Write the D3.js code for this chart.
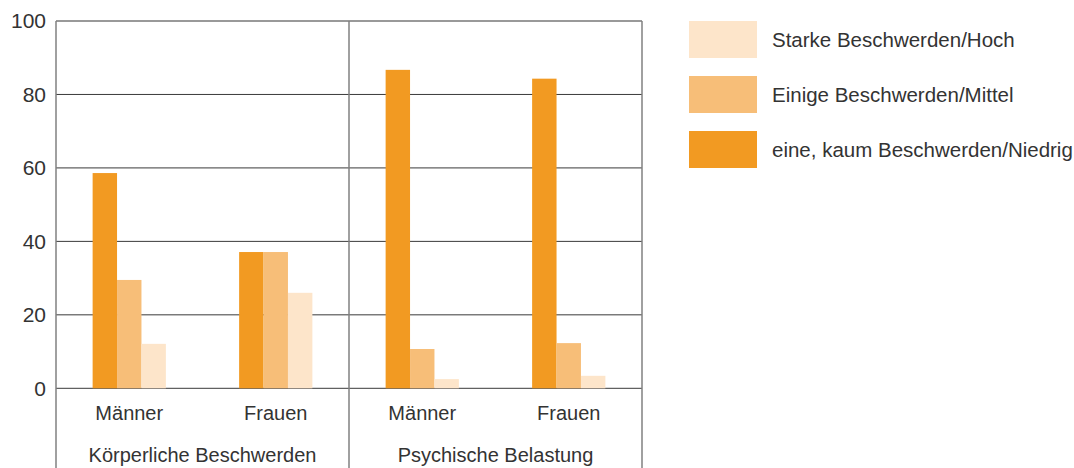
<!DOCTYPE html>
<html>
<head>
<meta charset="utf-8">
<script src="https://cdn.jsdelivr.net/npm/d3@7"></script>
<style>
  html, body { margin: 0; padding: 0; background: #fff; }
  svg { display: block; font-family: "Liberation Sans", Arial, sans-serif; }
</style>
</head>
<body>
<svg id="chart" width="1074" height="468"></svg>
<script>
// Beschwerden nach Geschlecht (Angaben in %)
const groups = ["Körperliche Beschwerden", "Psychische Belastung"];
const sexes = ["Männer", "Frauen"];
const seriesNames = ["eine, kaum Beschwerden/Niedrig", "Einige Beschwerden/Mittel", "Starke Beschwerden/Hoch"];
const niedrig = [58.6, 37.1, 86.7, 84.3];
const mittel  = [29.5, 37.1, 10.7, 12.3];
const hoch    = [12.1, 26.0, 2.5, 3.4];
const yTicks = [0, 20, 40, 60, 80, 100];
const legendOrder = ["Starke Beschwerden/Hoch", "Einige Beschwerden/Mittel", "eine, kaum Beschwerden/Niedrig"];

const colors = {
  "eine, kaum Beschwerden/Niedrig": "#f29a22",
  "Einige Beschwerden/Mittel": "#f7be78",
  "Starke Beschwerden/Hoch": "#fde5ca"
};

const seriesValues = [niedrig, mittel, hoch];
const cells = [];
groups.forEach((g, gi) => sexes.forEach((s, si) => cells.push({ key: g + "|" + s, group: g, sex: s, idx: gi * 2 + si })));

const svg = d3.select("#chart");
const m = { left: 56, right: 642, top: 21, bottom: 388.3 };
const H = 468;
const textColor = "#333";

const x0 = d3.scaleBand().domain(cells.map(c => c.key)).range([m.left, m.right]).paddingInner(0).paddingOuter(0);
const x1 = d3.scaleBand().domain(seriesNames).range([0, x0.bandwidth()]).paddingInner(0).paddingOuter(1.5);
const xg = d3.scaleBand().domain(groups).range([m.left, m.right]);
const y = d3.scaleLinear().domain([0, 100]).range([m.bottom, m.top]);

// horizontal grid lines
svg.append("g").selectAll("line").data(yTicks).join("line")
  .attr("x1", m.left).attr("x2", m.right)
  .attr("y1", d => y(d)).attr("y2", d => y(d))
  .attr("stroke", d => d === 100 ? "#777" : "#3a3a3a")
  .attr("stroke-width", d => d === 100 ? 1.3 : 1);

// bars
const bars = svg.append("g");
cells.forEach(c => {
  seriesNames.forEach((sName, k) => {
    const v = seriesValues[k][c.idx];
    bars.append("rect")
      .attr("x", x0(c.key) + x1(sName))
      .attr("width", x1.bandwidth())
      .attr("y", y(v))
      .attr("height", y(0) - y(v))
      .attr("fill", colors[sName]);
  });
});

// vertical frame lines: left axis, group divider, right edge
const vx = [xg(groups[0]), xg(groups[1]), xg(groups[1]) + xg.bandwidth()];
svg.append("g").selectAll("line").data(vx).join("line")
  .attr("x1", d => d).attr("x2", d => d)
  .attr("y1", m.top).attr("y2", H)
  .attr("stroke", "#808080").attr("stroke-width", 1.5);

// y tick labels
svg.append("g").selectAll("text").data(yTicks).join("text")
  .attr("x", m.left - 10).attr("y", d => y(d))
  .attr("dy", "0.35em").attr("text-anchor", "end")
  .attr("font-size", 21).attr("fill", textColor)
  .text(d => d);

// sex labels
svg.append("g").selectAll("text").data(cells).join("text")
  .attr("x", d => x0(d.key) + x0.bandwidth() / 2).attr("y", 413)
  .attr("dy", "0.35em").attr("text-anchor", "middle")
  .attr("font-size", 20).attr("fill", textColor)
  .text(d => d.sex);

// group labels
svg.append("g").selectAll("text").data(groups).join("text")
  .attr("x", d => xg(d) + xg.bandwidth() / 2).attr("y", 455)
  .attr("dy", "0.35em").attr("text-anchor", "middle")
  .attr("font-size", 20).attr("fill", textColor)
  .text(d => d);

// legend
const lg = svg.append("g");
legendOrder.forEach((name, i) => {
  const top = 21 + i * 55;
  lg.append("rect").attr("x", 689).attr("y", top).attr("width", 68).attr("height", 37).attr("fill", colors[name]);
  lg.append("text").attr("x", 772).attr("y", top + 18.5).attr("dy", "0.35em")
    .attr("font-size", 20.5).attr("fill", textColor).text(name);
});
</script>
</body>
</html>
